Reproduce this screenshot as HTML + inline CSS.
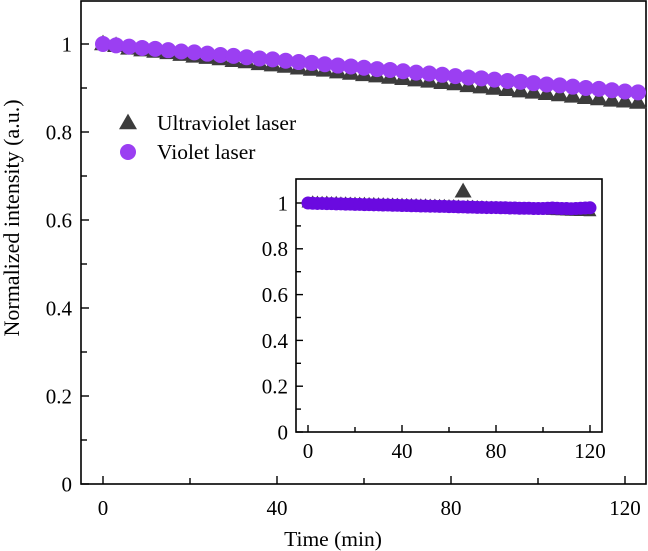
<!DOCTYPE html>
<html><head><meta charset="utf-8"><style>
body{margin:0;background:#fff}
svg{display:block;font-family:"Liberation Serif",serif}
</style></head><body>
<svg id="c" width="648" height="551" viewBox="0 0 648 551"></svg>
<script>
const mainTimes=[0,3,6,9,12,15,18,21,24,27,30,33,36,39,42,45,48,51,54,57,60,63,66,69,72,75,78,81,84,87,90,93,96,99,102,105,108,111,114,117,120,123];
const mainViolet=[1.000,0.997,0.994,0.991,0.989,0.986,0.983,0.981,0.978,0.975,0.973,0.970,0.967,0.965,0.962,0.959,0.957,0.954,0.951,0.949,0.946,0.943,0.941,0.938,0.935,0.933,0.930,0.927,0.924,0.922,0.919,0.916,0.914,0.911,0.908,0.906,0.903,0.900,0.898,0.895,0.892,0.890];
const mainUV=[1.000,0.996,0.990,0.986,0.983,0.980,0.976,0.972,0.969,0.966,0.962,0.959,0.955,0.952,0.949,0.945,0.942,0.940,0.936,0.933,0.930,0.927,0.924,0.921,0.918,0.915,0.912,0.909,0.905,0.902,0.899,0.896,0.893,0.890,0.887,0.884,0.881,0.878,0.875,0.872,0.870,0.867];
const insetTimes=[0,2,4,6,8,10,12,14,16,18,20,22,24,26,28,30,32,34,36,38,40,42,44,46,48,50,52,54,56,58,60,62,64,66,68,70,72,74,76,78,80,82,84,86,88,90,92,94,96,98,100,102,104,106,108,110,112,114,116,118,120];
const insetViolet=[1.000,0.999,0.998,0.998,0.997,0.997,0.996,0.996,0.995,0.995,0.994,0.994,0.993,0.993,0.992,0.992,0.991,0.991,0.990,0.990,0.989,0.989,0.988,0.988,0.987,0.987,0.986,0.986,0.985,0.985,0.984,0.984,0.983,0.983,0.982,0.982,0.981,0.981,0.980,0.980,0.980,0.979,0.979,0.978,0.978,0.977,0.977,0.977,0.976,0.976,0.976,0.977,0.978,0.977,0.976,0.976,0.975,0.976,0.977,0.978,0.979];
const insetUV=[1.000,1.004,1.003,1.002,1.003,1.001,1.002,1.000,1.000,0.999,0.999,0.998,0.998,0.997,0.997,0.996,0.996,0.995,0.995,0.994,0.994,0.993,0.993,0.992,0.991,0.991,0.990,0.990,0.989,0.989,0.988,0.988,0.987,1.050,0.986,0.985,0.984,0.983,0.982,0.981,0.980,0.979,0.978,0.977,0.976,0.975,0.974,0.973,0.972,0.971,0.970,0.969,0.968,0.967,0.966,0.965,0.964,0.964,0.963,0.963,0.962];
const mainXTicks=[0,40,80,120], mainXMinor=[20,60,100];
const mainYTicks=[0,0.2,0.4,0.6,0.8,1], mainYLabels=["0","0.2","0.4","0.6","0.8","1"], mainYMinor=[0.1,0.3,0.5,0.7,0.9];
const insetXTicks=[0,40,80,120], insetXMinor=[20,60,100];
const insetYTicks=[0,0.2,0.4,0.6,0.8,1], insetYLabels=["0","0.2","0.4","0.6","0.8","1"], insetYMinor=[0.1,0.3,0.5,0.7,0.9];

const svg=document.getElementById('c');const NS='http://www.w3.org/2000/svg';
function mk(tag,at,parent){const e=document.createElementNS(NS,tag);for(const k in at)e.setAttribute(k,at[k]);(parent||svg).appendChild(e);return e;}
const mx=t=>103+t*(625-103)/120, my=v=>484-v*440;
const ix=t=>308+t*(590-308)/120, iy=v=>432-v*229;

function tri(g,cx,cy,s,fill){const h=s*0.87;const p=mk('polygon',{points:`${cx},${cy-h*0.6} ${cx-s/2},${cy+h*0.4} ${cx+s/2},${cy+h*0.4}`,fill:fill},g);}
function circ(g,cx,cy,r,fill){const c=mk('circle',{cx:cx,cy:cy,r:r,fill:fill},g);}

function axes(name,L,T,R,B,xs,ys,xt,xm,yt,yl,ym,fs,maj,mn,xlabY,ylabX){
  const g=mk('g',{});
  mk('rect',{x:L,y:T,width:R-L,height:B-T,fill:'none',stroke:'#000','stroke-width':1.6},g);
  xt.forEach(t=>{mk('line',{x1:xs(t),x2:xs(t),y1:B,y2:B-maj,stroke:'#000','stroke-width':1.4},g);
    const tx=mk('text',{x:xs(t),y:xlabY,'font-size':fs,'text-anchor':'middle'},g);tx.textContent=t;
    });
  xm.forEach(t=>mk('line',{x1:xs(t),x2:xs(t),y1:B,y2:B-mn,stroke:'#000','stroke-width':1.4},g));
  yt.forEach((v,i)=>{mk('line',{x1:L,x2:L+maj,y1:ys(v),y2:ys(v),stroke:'#000','stroke-width':1.4},g);
    const tx=mk('text',{x:ylabX,y:ys(v)+fs*0.35,'font-size':fs,'text-anchor':'end'},g);tx.textContent=yl[i];
    });
  ym.forEach(v=>mk('line',{x1:L,x2:L+mn,y1:ys(v),y2:ys(v),stroke:'#000','stroke-width':1.4},g));
  return g;
}
axes('main-axes',81,1,646,484,mx,my,mainXTicks,mainXMinor,mainYTicks,mainYLabels,mainYMinor,21,8,6,515,72);
const gm=mk('g',{});
mainTimes.forEach((t,i)=>tri(gm,mx(t),my(mainUV[i]),18,'#3c3c3c'));
mainTimes.forEach((t,i)=>circ(gm,mx(t),my(mainViolet[i]),8,'#9b3ff2'));

mk('rect',{x:296,y:179,width:306,height:253,fill:'#fff'});
axes('inset-axes',296,179,602,432,ix,iy,insetXTicks,insetXMinor,insetYTicks,insetYLabels,insetYMinor,21,7,5,458,288);
const gi=mk('g',{});
insetTimes.forEach((t,i)=>tri(gi,ix(t),iy(insetUV[i]),i===33?17:13,'#3c3c3c'));
insetTimes.forEach((t,i)=>circ(gi,ix(t),iy(insetViolet[i]),6.5,'#6a0ae0'));

const lg=mk('g',{});
tri(lg,128,123,18,'#3c3c3c');circ(lg,128,152,8,'#9b3ff2');
let t1=mk('text',{x:157,y:130,'font-size':21.5},lg);t1.textContent='Ultraviolet laser';
let t2=mk('text',{x:157,y:159,'font-size':21.5},lg);t2.textContent='Violet laser';

let xl=mk('text',{x:333,y:546,'font-size':21.5,'text-anchor':'middle'});xl.textContent='Time (min)';
let yl=mk('text',{x:0,y:0,'font-size':22,'text-anchor':'middle',transform:'translate(19,218) rotate(-90)'});yl.textContent='Normalized intensity (a.u.)';
</script>
</body></html>
